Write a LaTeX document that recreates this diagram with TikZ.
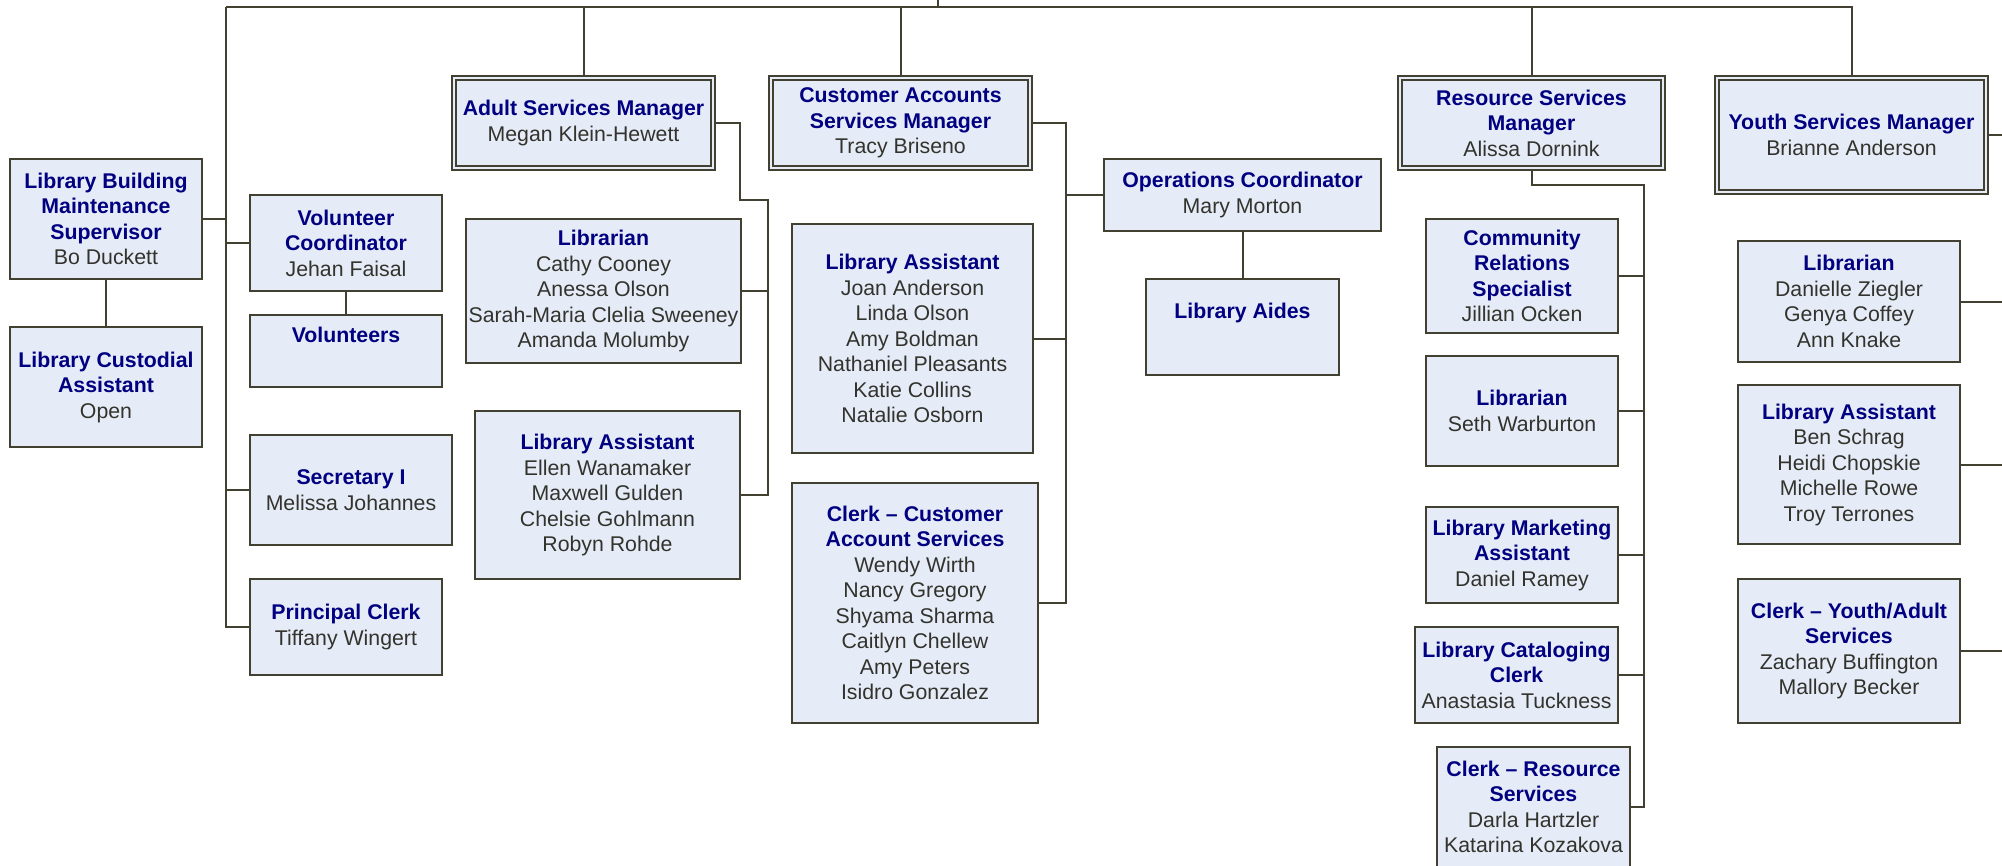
\documentclass[tikz,border=0pt]{standalone}
\usepackage{fontspec}
\setmainfont{Liberation Sans}
\usetikzlibrary{positioning,calc}
\definecolor{chartNavy}{RGB}{0, 0, 128}
\definecolor{chartInk}{RGB}{51, 51, 45}
\definecolor{chartLine}{RGB}{66, 64, 48}
\definecolor{chartFill}{RGB}{230, 236, 247}
\newcommand{\ttl}[1]{\textbf{\textcolor{chartNavy}{#1}}}

\begin{document}
\begin{tikzpicture}[
        x=1pt, y=-1pt,
        post/.style={rectangle, draw=chartLine, fill=chartFill, line width=2pt, inner sep=0pt, align=center, text=chartInk, font=\fontsize{21.3}{25.5}\selectfont},
        manager/.style={post, double=chartFill, double distance=2.4pt, line width=1.6pt},
        dims/.style 2 args={minimum width=#1pt, minimum height=#2pt},
        link/.style={draw=chartLine, line width=2pt}
    ]
        \useasboundingbox (0,0) rectangle (2002,865);
        \clip (0,0) rectangle (2002,865);

        % Left column
        \node[post, dims={192}{120}] (bldg) at (106,219) {\ttl{Library Building}\\\ttl{Maintenance}\\\ttl{Supervisor}\\Bo Duckett};
        \node[post, dims={192}{120}] (custod) at (106,387) {\ttl{Library Custodial}\\\ttl{Assistant}\\Open};
        \node[post, dims={192}{96}] (volcoord) at (346,243) {\ttl{Volunteer}\\\ttl{Coordinator}\\Jehan Faisal};
        \node[post, dims={192}{72}] (volunteers) at (346,351) {\ttl{Volunteers}\\\strut};
        \node[post, dims={202}{110}] (secretary) at (351,490) {\ttl{Secretary I}\\Melissa Johannes};
        \node[post, dims={192}{96}] (prclerk) at (346,627) {\ttl{Principal Clerk}\\Tiffany Wingert};

        % Adult services
        \node[manager, dims={259}{90}] (adult) at (583.5,123) {\ttl{Adult Services Manager}\\Megan Klein-Hewett};
        \node[post, dims={275}{144}] (adultlib) at (603.5,291) {\ttl{Librarian}\\Cathy Cooney\\Anessa Olson\\Sarah-Maria Clelia Sweeney\\Amanda Molumby};
        \node[post, dims={265}{168}] (adultasst) at (607.5,495) {\ttl{Library Assistant}\\Ellen Wanamaker\\Maxwell Gulden\\Chelsie Gohlmann\\Robyn Rohde};

        % Customer accounts
        \node[manager, dims={259}{90}] (custacct) at (900.5,123) {\ttl{Customer Accounts}\\\ttl{Services Manager}\\Tracy Briseno};
        \node[post, dims={241}{229}] (custasst) at (912.5,338.5) {\ttl{Library Assistant}\\Joan Anderson\\Linda Olson\\Amy Boldman\\Nathaniel Pleasants\\Katie Collins\\Natalie Osborn};
        \node[post, dims={246}{240}] (custclerk) at (915,603) {\ttl{Clerk – Customer}\\\ttl{Account Services}\\Wendy Wirth\\Nancy Gregory\\Shyama Sharma\\Caitlyn Chellew\\Amy Peters\\Isidro Gonzalez};
        \node[post, dims={277}{72}] (ops) at (1242.5,195) {\ttl{Operations Coordinator}\\Mary Morton};
        \node[post, dims={193}{96}] (aides) at (1242.5,327) {\ttl{Library Aides}\\\strut};

        % Resource services
        \node[manager, dims={263}{90}] (resource) at (1531.5,123) {\ttl{Resource Services}\\\ttl{Manager}\\Alissa Dornink};
        \node[post, dims={192}{114}] (community) at (1522,276) {\ttl{Community}\\\ttl{Relations}\\\ttl{Specialist}\\Jillian Ocken};
        \node[post, dims={192}{110}] (reslib) at (1522,411) {\ttl{Librarian}\\Seth Warburton};
        \node[post, dims={192}{96}] (marketing) at (1522,555) {\ttl{Library Marketing}\\\ttl{Assistant}\\Daniel Ramey};
        \node[post, dims={203}{96}] (catalog) at (1516.5,675) {\ttl{Library Cataloging}\\\ttl{Clerk}\\Anastasia Tuckness};
        \node[post, dims={193}{120}] (resclerk) at (1533.5,807) {\ttl{Clerk – Resource}\\\ttl{Services}\\Darla Hartzler\\Katarina Kozakova};

        % Youth services
        \node[manager, dims={269}{114}] (youth) at (1851.5,135) {\ttl{Youth Services Manager}\\Brianne Anderson};
        \node[post, dims={222}{121}] (youthlib) at (1849,301.5) {\ttl{Librarian}\\Danielle Ziegler\\Genya Coffey\\Ann Knake};
        \node[post, dims={222}{159}] (youthasst) at (1849,464.5) {\ttl{Library Assistant}\\Ben Schrag\\Heidi Chopskie\\Michelle Rowe\\Troy Terrones};
        \node[post, dims={222}{144}] (youthclerk) at (1849,651) {\ttl{Clerk – Youth/Adult}\\\ttl{Services}\\Zachary Buffington\\Mallory Becker};

        % Top bus
        \coordinate (chief) at (938,-10);
        \coordinate (bus) at (938,7.3);
        \coordinate (leftbus) at (226,7.3);
        \draw[link] (chief) -- (bus);
        \draw[link] (leftbus) -- (bus);
        \draw[link] (adult.north) |- (bus);
        \draw[link] (custacct.north) |- (bus);
        \draw[link] (resource.north) |- (bus);
        \draw[link] (youth.north) |- (bus);

        % Left column links
        \draw[link] (bldg.east) -| (leftbus);
        \draw[link] (volcoord.west) -| (leftbus);
        \draw[link] (secretary.west) -| (leftbus);
        \draw[link] (prclerk.west) -| (leftbus);
        \draw[link] (bldg) -- (custod);
        \draw[link] (volcoord) -- (volunteers);

        % Adult services links
        \coordinate (adultjog) at (740,200);
        \coordinate (adultbus) at (768,200);
        \draw[link] (adult.east) -| (adultjog) -- (adultbus) |- (adultasst.east);
        \draw[link] (adultlib.east) -- (adultlib.east -| adultbus);

        % Customer accounts links
        \coordinate (custbus) at (1066,123);
        \draw[link] (custacct.east) -- (custbus) |- (custclerk.east);
        \draw[link] (custasst.east) -- (custasst.east -| custbus);
        \draw[link] (ops.west) -- (ops.west -| custbus);
        \draw[link] (ops) -- (aides);

        % Resource services links
        \coordinate (resbus) at (1644,185);
        \draw[link] (resource.south) |- (resbus) |- (resclerk.east);
        \draw[link] (community.east) -- (community.east -| resbus);
        \draw[link] (reslib.east) -- (reslib.east -| resbus);
        \draw[link] (marketing.east) -- (marketing.east -| resbus);
        \draw[link] (catalog.east) -- (catalog.east -| resbus);

        % Youth services links
        \coordinate (youthbus) at (2040,135);
        \draw[link] (youth.east) -- (youthbus) |- (youthclerk.east);
        \draw[link] (youthlib.east) -- (youthlib.east -| youthbus);
        \draw[link] (youthasst.east) -- (youthasst.east -| youthbus);

\end{tikzpicture}
\end{document}
